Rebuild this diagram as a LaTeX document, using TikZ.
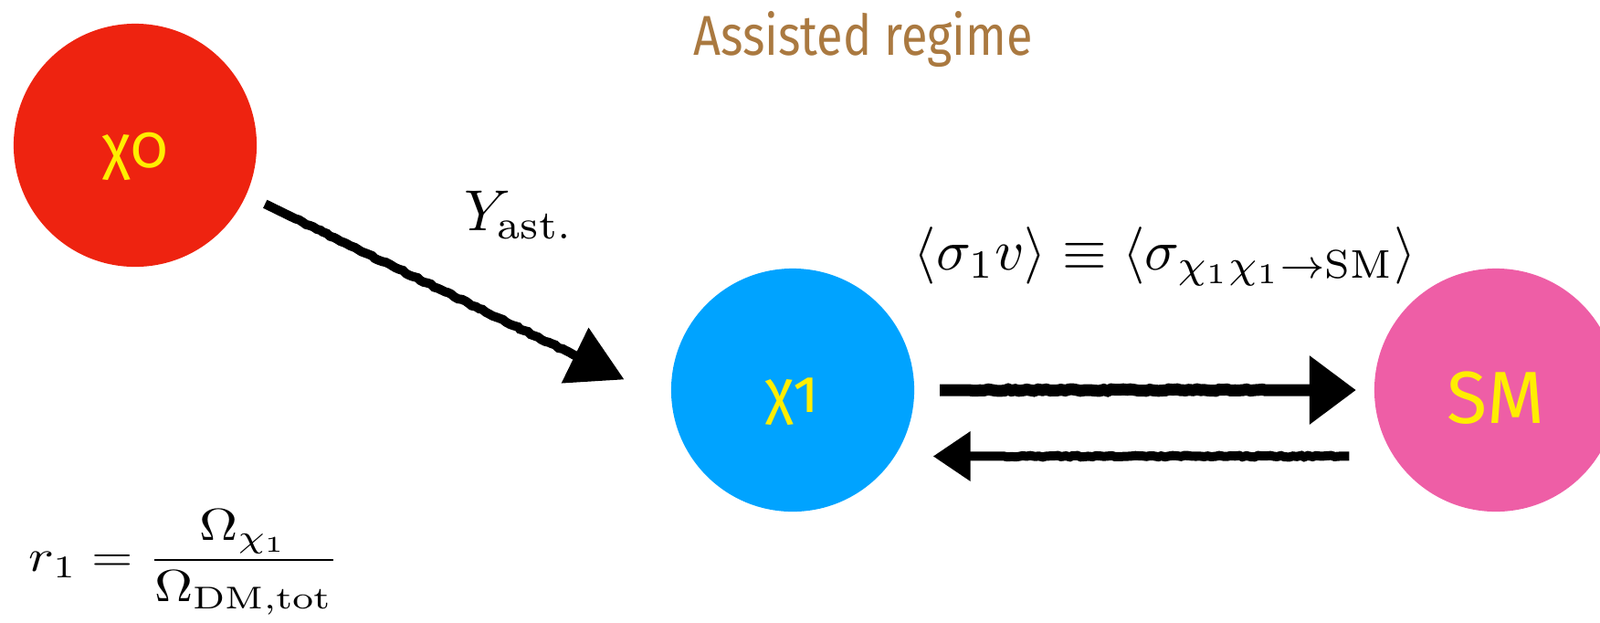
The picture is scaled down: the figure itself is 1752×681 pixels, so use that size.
\documentclass[tikz,border=0pt]{standalone}
\usepackage{amsmath,amssymb}
\usepackage{fontspec}
\usepackage{tikz}
\usetikzlibrary{arrows.meta, positioning, decorations.pathmorphing}
\newfontfamily\handfont[Numbers=OldStyle]{Fira Sans}
\definecolor{dmred}{RGB}{238,35,16}
\definecolor{dmblue}{RGB}{0,163,255}
\definecolor{smpink}{RGB}{238,94,166}
\definecolor{labelyellow}{RGB}{255,238,0}
\definecolor{regimebrown}{RGB}{170,121,64}
% lower a label without changing the box size
\newcommand{\sitdown}[2]{\raisebox{-#1}[0pt][0pt]{#2}}

\begin{document}
\begin{tikzpicture}[x=0.01cm, y=-0.01cm,
  species/.style={circle, minimum size=2.66cm, inner sep=0pt, outer sep=0pt,
    text=labelyellow, font=\handfont\fontsize{19}{22}\selectfont},
  formula/.style={anchor=base, transform shape},
  rough/.style={decorate, decoration={random steps, segment length=1.2pt,
    amplitude=0.25pt, pre length=6mm, post length=12mm}}]
  \useasboundingbox (0,0) rectangle (1752,681);
  % particles
  \node[species, fill=dmred] (x0) at (148,159) {\sitdown{2.4mm}{χ0}};
  \node[species, fill=dmblue] (x1) at (868,427) {\sitdown{2.4mm}{χ1}};
  \node[species, fill=smpink, font=\handfont\fontsize{23}{26}\selectfont] (sm) at (1638,427) {\sitdown{3.6mm}{SM}};
  % labels
  \node[text=regimebrown, anchor=base, xscale=0.85, transform shape,
    font=\handfont\fontsize{17.5}{20}\selectfont] (regime) at (945,60) {Assisted regime};
  \node[formula, scale=1.8] (yast) at (568,252) {$Y_{\mathrm{ast.}}$};
  \node[formula, scale=1.78] (sigmav) at (1276,295)
    {$\langle\sigma_1 v\rangle \equiv \langle\sigma_{\chi_1\chi_1\to\mathrm{SM}}\rangle$};
  \node[formula, xscale=1.66, yscale=1.4] (ratio) at (202,625)
    {$r_1 = \dfrac{\Omega_{\chi_1}}{\Omega_{\mathrm{DM,tot}}}$};
  % sketchy arrows
  \draw[rough, line width=1mm, -{Triangle[length=6mm, width=6.5mm]},
    shorten <=2.3mm, shorten >=5.8mm] (x0.-24) -- (x1.186);
  \draw[rough, line width=1.3mm, -{Triangle[length=5.1mm, width=7.2mm]},
    shorten <=2.8mm, shorten >=2mm] (x1.east) -- (sm.west);
  \draw[rough, line width=1mm, -{Triangle[length=4.1mm, width=5.2mm]},
    shorten <=4.9mm, shorten >=4.2mm] (sm.213.3) -- (x1.-33.3);
\end{tikzpicture}
\end{document}
